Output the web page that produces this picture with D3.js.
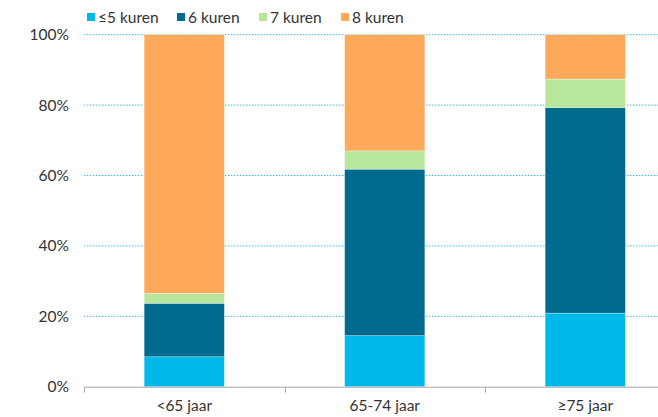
<!DOCTYPE html>
<html><head><meta charset="utf-8">
<script src="https://cdn.jsdelivr.net/npm/d3@7"></script>
<style>body{margin:0;background:#fff}text{font-family:Lato,"Open Sans",sans-serif;fill:#333}</style>
</head><body><svg id="c" width="658" height="417"></svg>
<script>
const categories = ["<65 jaar", "65-74 jaar", "≥75 jaar"];
const seriesNames = ["≤5 kuren", "6 kuren", "7 kuren", "8 kuren"];
const le5 = [8.5, 14.5, 20.9];
const k6 = [15.2, 47.3, 58.4];
const k7 = [2.8, 5.2, 8.1];
const k8 = [73.5, 33.0, 12.6];
const colors = ["#00B8EA", "#006B8E", "#B8E69B", "#FFA95B"];
const yTicks = [0, 20, 40, 60, 80, 100];

const svg = d3.select("#c");
const m = {l: 84, t: 34.7, b: 386.7};
const x = d3.scaleBand().domain(categories).range([m.l, m.l + 601.5]).paddingInner(0.6).paddingOuter(0.3);
const y = d3.scaleLinear().domain([0, 100]).range([m.b, m.t]);

// gridlines
svg.append("g").selectAll("line").data(yTicks.filter(d => d > 0)).join("line")
  .attr("x1", m.l).attr("x2", 658).attr("y1", d => y(d)).attr("y2", d => y(d))
  .attr("stroke", "#3FBDE6").attr("stroke-width", 1).attr("stroke-dasharray", "1.5,1.5");

// y labels
svg.append("g").selectAll("text").data(yTicks).join("text")
  .attr("x", 69).attr("y", d => y(d)).attr("dy", "0.35em").attr("text-anchor", "end")
  .attr("font-size", 15.5).text(d => d + "%");

const rows = categories.map((c, i) => ({cat: c, s0: le5[i], s1: k6[i], s2: k7[i], s3: k8[i]}));
const stack = d3.stack().keys(["s0", "s1", "s2", "s3"])(rows);

svg.append("g").selectAll("g").data(stack).join("g").attr("fill", (d, i) => colors[i])
  .selectAll("rect").data(d => d).join("rect")
  .attr("x", d => x(d.data.cat)).attr("width", x.bandwidth())
  .attr("y", d => y(d[1])).attr("height", d => y(d[0]) - y(d[1]))
  .attr("stroke", "rgba(255,255,255,0.5)").attr("stroke-width", 0.6);

// x axis
const step = x.step();
const tickXs = [0, 1, 2, 3].map(i => m.l + i * step);
svg.append("line").attr("x1", m.l).attr("x2", 658).attr("y1", m.b + 0.5).attr("y2", m.b + 0.5)
  .attr("stroke", "#A6A6A6").attr("stroke-width", 1);
svg.append("g").selectAll("line").data(tickXs).join("line")
  .attr("x1", d => Math.round(d) + 0.5).attr("x2", d => Math.round(d) + 0.5)
  .attr("y1", m.b).attr("y2", m.b + 6).attr("stroke", "#A6A6A6");
svg.append("g").selectAll("text").data(categories).join("text")
  .attr("x", d => x(d) + x.bandwidth() / 2).attr("y", 411).attr("text-anchor", "middle")
  .attr("font-size", 15.5).text(d => d);

// legend
const legX = [87, 177, 259, 341];
const lg = svg.append("g").selectAll("g").data(seriesNames).join("g")
  .attr("transform", (d, i) => `translate(${legX[i]},0)`);
lg.append("rect").attr("x", 0).attr("y", 13).attr("width", 8).attr("height", 8).attr("fill", (d, i) => colors[i]);
lg.append("text").attr("x", 11).attr("y", 22.5).attr("font-size", 15.5).text(d => d);
</script></body></html>
